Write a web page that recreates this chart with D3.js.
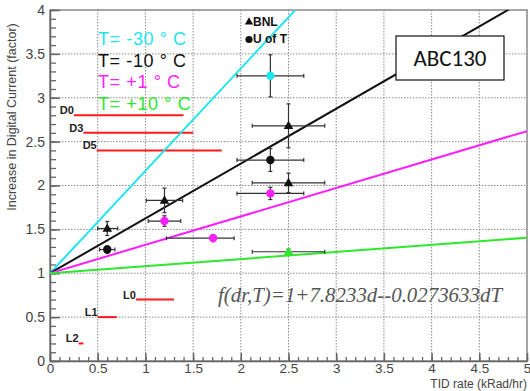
<!DOCTYPE html>
<html><head><meta charset="utf-8">
<script src="https://cdn.jsdelivr.net/npm/d3@7"></script>
<style>body{margin:0;background:#fff}svg{display:block}</style>
</head><body><svg id="c" width="530" height="391"></svg>
<script>
// ---- data ----
const xTicks = [0,0.5,1,1.5,2,2.5,3,3.5,4,4.5,5];
const yTicks = [0,0.5,1,1.5,2,2.5,3,3.5,4];
const tempLabels = ["T= -30 \u00B0 C","T= -10 \u00B0 C","T= +1 \u00B0 C","T= +10 \u00B0 C"];
const tempColors = ["#1ee6ee","#111111","#ff1eff","#2ee82e"];
const fitSlopes = [1.167, 0.625, 0.324, 0.081];
const fitIntercept = 1;
// measurement points
const ptX    = [2.31, 2.5, 2.31, 2.5, 2.31, 0.6, 0.6, 1.2, 1.2, 1.71, 2.5];
const ptY    = [3.25, 2.68, 2.29, 2.03, 1.91, 1.51, 1.27, 1.83, 1.595, 1.40, 1.245];
const ptXlo  = [0.35, 0.38, 0.35, 0.38, 0.35, 0.10, 0.08, 0.19, 0.17, 0.49, 0.38];
const ptXhi  = [0.35, 0.38, 0.35, 0.38, 0.35, 0.11, 0.08, 0.19, 0.17, 0.22, 0.38];
const ptYerr = [0.24, 0.25, 0.13, 0.11, 0.07, 0.08, 0.04, 0.14, 0.06, 0.04, 0.03];
const ptTemp = [0, 1, 1, 1, 2, 1, 1, 1, 2, 2, 3];
const ptSrc  = ["U","B","U","B","U","B","U","B","U","U","B"];
// reference levels (red lines)
const refLabels = ["D0","D3","D5","L0","L1","L2"];
const refY      = [2.80, 2.60, 2.40, 0.70, 0.50, 0.20];
const refX0     = [0.25, 0.35, 0.49, 0.90, 0.50, 0.30];
const refX1     = [1.40, 1.50, 1.80, 1.30, 0.70, 0.35];
const sourceLabels = ["BNL","U of T"];
const formula = "f(dr,T)=1+7.8233d--0.0273633dT";
const chipLabel = "ABC130";
const xTitle = "TID rate (kRad/hr)";
const yTitle = "Increase in Digital Current (factor)";

// ---- drawing ----
const svg = d3.select("#c");
const L=50, R=527, T=10, B=361;
const x = d3.scaleLinear().domain([0,5]).range([L,R]);
const y = d3.scaleLinear().domain([0,4]).range([B,T]);
const font = "'Liberation Sans', Arial, sans-serif";

svg.append("defs").append("clipPath").attr("id","clip")
  .append("rect").attr("x",L).attr("y",T).attr("width",R-L).attr("height",B-T);

// grid
const grid = svg.append("g").attr("stroke","#8a8a8a").attr("stroke-width",1).attr("stroke-dasharray","1.5,1.5");
grid.selectAll(".gx").data(xTicks.slice(1,-1)).join("line")
  .attr("x1",d=>x(d)).attr("x2",d=>x(d)).attr("y1",T).attr("y2",B);
grid.selectAll(".gy").data(yTicks.slice(1,-1)).join("line")
  .attr("y1",d=>y(d)).attr("y2",d=>y(d)).attr("x1",L).attr("x2",R);

// frame
svg.append("rect").attr("x",L).attr("y",T).attr("width",R-L).attr("height",B-T)
  .attr("fill","none").attr("stroke","#888").attr("stroke-width",1.5);

// axes
const minorX = d3.range(0,5.001,0.1).map(v=>+v.toFixed(2));
const minorY = d3.range(0,4.001,0.1).map(v=>+v.toFixed(2));
function styleAxis(g){ g.select(".domain").attr("stroke","#666").attr("stroke-width",1.5);
  g.selectAll(".tick line").attr("stroke","#666").attr("stroke-width",1.5);
  g.selectAll("text").attr("fill","#444").style("font-family",font).style("font-size","13.5px"); }
svg.append("g").attr("transform",`translate(0,${B})`)
  .call(d3.axisBottom(x).tickValues(minorX).tickSize(-4).tickFormat(""))
  .call(g=>{g.select(".domain").remove(); g.selectAll(".tick line").attr("stroke","#666").attr("stroke-width",1.3);});
svg.append("g").attr("transform",`translate(${L},0)`)
  .call(d3.axisLeft(y).tickValues(minorY).tickSize(-6).tickFormat(""))
  .call(g=>{g.select(".domain").remove(); g.selectAll(".tick line").attr("stroke","#666").attr("stroke-width",1.3);});
svg.append("g").attr("transform",`translate(0,${B})`)
  .call(d3.axisBottom(x).tickValues(xTicks).tickSize(-8).tickPadding(2).tickSizeOuter(0).tickFormat(d3.format("")))
  .call(styleAxis);
svg.append("g").attr("transform",`translate(${L},0)`)
  .call(d3.axisLeft(y).tickValues(yTicks).tickSize(-10).tickPadding(5).tickSizeOuter(0).tickFormat(d3.format("")))
  .call(styleAxis)
  .call(g=>g.selectAll(".tick text").attr("x",-5).style("font-size","14px"));

// axis titles
svg.append("text").attr("x",R).attr("y",387.5).attr("text-anchor","end")
  .attr("fill","#444").style("font-family",font).style("font-size","12px").text(xTitle);
svg.append("text").attr("transform","translate(16,117) rotate(-90)").attr("text-anchor","middle")
  .attr("fill","#444").style("font-family",font).style("font-size","12.5px").text(yTitle);

// red reference lines
const refG = svg.append("g");
refG.selectAll("line").data(refLabels).join("line")
  .attr("x1",(d,i)=>x(refX0[i])).attr("x2",(d,i)=>x(refX1[i]))
  .attr("y1",(d,i)=>y(refY[i])).attr("y2",(d,i)=>y(refY[i]))
  .attr("stroke","#ff1a1a").attr("stroke-width",2);
refG.selectAll("text").data(refLabels).join("text")
  .attr("x",(d,i)=>x(refX0[i])).attr("y",(d,i)=>y(refY[i])-1)
  .attr("text-anchor","end").attr("fill","#222")
  .style("font-family",font).style("font-size","11px").style("font-weight","bold").text(d=>d);

// fit lines
const fitG = svg.append("g").attr("clip-path","url(#clip)");
fitG.selectAll("line").data(fitSlopes).join("line")
  .attr("x1",x(0)).attr("y1",y(fitIntercept))
  .attr("x2",x(5)).attr("y2",d=>y(fitIntercept+5*d))
  .attr("stroke",(d,i)=>tempColors[i]).attr("stroke-width",2);

// error bars
const eb = svg.append("g").attr("stroke","#333").attr("stroke-width",1.2);
ptX.forEach((px,i)=>{
  const cx=x(px), cy=y(ptY[i]);
  const xl=x(px-ptXlo[i]), xr=x(px+ptXhi[i]);
  const yt=y(ptY[i]+ptYerr[i]), yb=y(ptY[i]-ptYerr[i]);
  eb.append("line").attr("x1",xl).attr("x2",xr).attr("y1",cy).attr("y2",cy);
  eb.append("line").attr("x1",xl).attr("x2",xl).attr("y1",cy-2).attr("y2",cy+2);
  eb.append("line").attr("x1",xr).attr("x2",xr).attr("y1",cy-2).attr("y2",cy+2);
  eb.append("line").attr("x1",cx).attr("x2",cx).attr("y1",yt).attr("y2",yb);
  eb.append("line").attr("x1",cx-2).attr("x2",cx+2).attr("y1",yt).attr("y2",yt);
  eb.append("line").attr("x1",cx-2).attr("x2",cx+2).attr("y1",yb).attr("y2",yb);
});
// markers
const tri = d3.symbol().type(d3.symbolTriangle).size(40);
const mk = svg.append("g");
ptX.forEach((px,i)=>{
  const c = tempColors[ptTemp[i]];
  if(ptSrc[i]==="U"){
    mk.append("circle").attr("cx",x(px)).attr("cy",y(ptY[i])).attr("r",4.2).attr("fill",c);
  } else {
    mk.append("path").attr("d",tri()).attr("transform",`translate(${x(px)},${y(ptY[i])+0.5})`).attr("fill",c);
  }
});

// temperature legend
svg.selectAll(".tl").data(tempLabels).join("text")
  .attr("x",98).attr("y",(d,i)=>45+i*21.7).attr("fill",(d,i)=>tempColors[i])
  .style("font-family",font).style("font-size","18px").style("letter-spacing","0.6px").text(d=>d);

// source legend
svg.append("path").attr("d",d3.symbol().type(d3.symbolTriangle).size(30)()).attr("transform","translate(249,22)").attr("fill","#111");
svg.append("circle").attr("cx",249).attr("cy",39.5).attr("r",3.6).attr("fill","#111");
svg.selectAll(".sl").data(sourceLabels).join("text")
  .attr("x",253).attr("y",(d,i)=>26+i*17.3).attr("fill","#111")
  .style("font-family",font).style("font-size","12px").style("font-weight","bold").text(d=>d);

// chip box
svg.append("rect").attr("x",396).attr("y",36).attr("width",108).attr("height",44)
  .attr("fill","#fff").attr("stroke","#111").attr("stroke-width",1.2);
svg.append("text").attr("x",450).attr("y",66).attr("text-anchor","middle").attr("fill","#111")
  .style("font-family","Carlito, Calibri, 'Liberation Sans', Arial, sans-serif").style("font-size","23px").text(chipLabel);

// formula
svg.append("text").attr("x",218).attr("y",302).attr("fill","#555")
  .attr("textLength",284).attr("lengthAdjust","spacingAndGlyphs")
  .style("font-family","'Liberation Serif','Times New Roman',serif").style("font-style","italic").style("font-size","21px").text(formula);
</script></body></html>
